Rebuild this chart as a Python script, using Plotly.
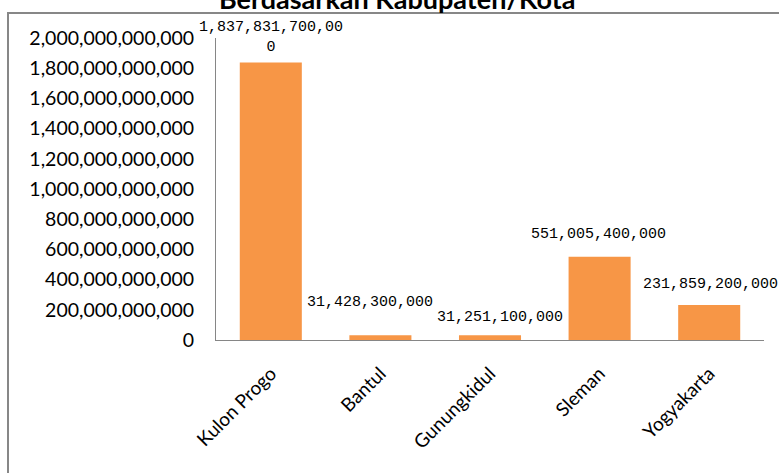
import plotly.graph_objects as go

categories = ["Kulon Progo", "Bantul", "Gunungkidul", "Sleman", "Yogyakarta"]
values = [1837831700000, 31428300000, 31251100000, 551005400000, 231859200000]
tick_values = [0, 200e9, 400e9, 600e9, 800e9, 1000e9, 1200e9, 1400e9, 1600e9, 1800e9, 2000e9]
tick_labels = [f"{int(v):,}" for v in tick_values]
title_text = "Berdasarkan Kabupaten/Kota"

# data label texts (first one wraps as in the original)
labels = [f"{v:,}" for v in values]
labels[0] = labels[0][:-1] + "<br>" + labels[0][-1]
label_dy = [24.5, 33, 18, 22, 20]
label_dx = [0, -10, 10, -1, 1]

W, H = 779, 473
L, R, T, B = 216, 15, 38, 133
pw, ph = W - L - R, H - T - B


def px(x):
    return (x - L) / pw


def py(y):
    return (H - B - y) / ph


fig = go.Figure()
fig.add_trace(go.Bar(
    x=categories, y=values, marker=dict(color="#F79646", line=dict(width=0)),
    hoverinfo="skip", cliponaxis=False,
))

for c, t, v, dy, dx in zip(categories, labels, values, label_dy, label_dx):
    fig.add_annotation(x=c, y=v, xref="x", yref="y", text=t, showarrow=False,
                       yanchor="middle", xanchor="center", yshift=dy, xshift=dx,
                       font=dict(family="Liberation Mono", size=15, color="#000000"))

fig.add_annotation(x=px(397), y=py(-1), xref="paper", yref="paper", text="<b>" + title_text + "</b>",
                   showarrow=False, xanchor="center", yanchor="middle",
                   font=dict(family="Lato", size=27, color="#000000"))

fig.add_shape(type="rect", xref="paper", yref="paper", x0=px(8), x1=px(820), y0=py(13), y1=py(520),
              line=dict(color="#878787", width=2), fillcolor="rgba(0,0,0,0)", layer="above")

fig.update_layout(
    width=W, height=H, autosize=False,
    margin=dict(l=L, r=R, t=T, b=B, pad=0),
    paper_bgcolor="white", plot_bgcolor="white",
    bargap=0.434, showlegend=False,
    font=dict(family="Lato", color="#000000"),
)
fig.update_yaxes(range=[0, 2e12], tickvals=tick_values, ticktext=tick_labels, showgrid=False,
                 zeroline=False, showline=True, linecolor="#868686", linewidth=1, ticks="",
                 ticklabelstandoff=17, tickfont=dict(family="Lato", size=19.5, color="#000000"))
fig.update_xaxes(range=[-0.5, 4.5], showgrid=False, showline=True, linecolor="#868686", linewidth=1,
                 ticks="", tickangle=-45, ticklabelstandoff=14,
                 tickfont=dict(family="Lato", size=19, color="#000000"))

fig.write_html("out.html")
